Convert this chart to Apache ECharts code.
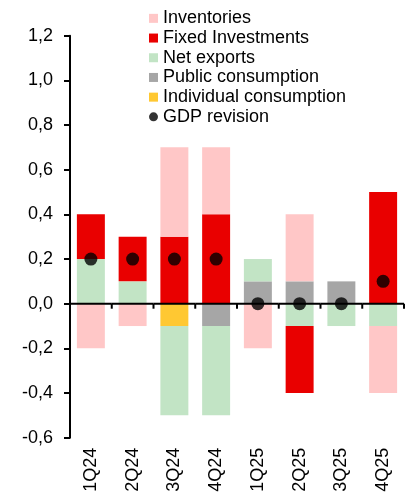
<!DOCTYPE html>
<html><head><meta charset="utf-8">
<script src="https://cdn.jsdelivr.net/npm/echarts@6/dist/echarts.min.js"></script>
<style>html,body{margin:0;padding:0;background:#fff}#c{width:407px;height:495px}</style>
</head><body><div id="c"></div>
<script>
const categories = ['1Q24','2Q24','3Q24','4Q24','1Q25','2Q25','3Q25','4Q25'];
const individualConsumption = [0, 0, -0.1, 0, 0, 0, 0, 0];
const publicConsumption = [0, 0, 0, -0.1, 0.1, 0.1, 0.1, 0];
const netExports = [0.2, 0.1, -0.4, -0.4, 0.1, -0.1, -0.1, -0.1];
const fixedInvestments = [0.2, 0.2, 0.3, 0.4, 0, -0.3, 0, 0.5];
const inventories = [-0.2, -0.1, 0.4, 0.3, -0.2, 0.3, 0, -0.3];
const gdpRevision = [0.2, 0.2, 0.2, 0.2, 0, 0, 0, 0.1];
const yTicks = {min: -0.6, max: 1.2, interval: 0.2};
const baseline = 0;

const FONT = 'Liberation Sans';
const FS = 18;
const chart = echarts.init(document.getElementById('c'), null, {renderer: 'canvas'});
function bar(name, data, color) {
  return {name, type: 'bar', stack: 'tot', data, barWidth: '67%',
    itemStyle: {color}, emphasis: {disabled: true}};
}

chart.setOption({
  animation: false,
  textStyle: {fontFamily: FONT},
  grid: {left: 70, right: 3, top: 35.7, bottom: 57.3, containLabel: false, outerBoundsMode: 'none'},
  legend: {
    orient: 'vertical', left: 149, top: 8.5, padding: 0, itemGap: 0, itemWidth: 9, itemHeight: 9,
    textStyle: {fontFamily: FONT, fontSize: FS, color: '#000', lineHeight: 19.7},
    data: [
      {name: 'Inventories', icon: 'rect'},
      {name: 'Fixed Investments', icon: 'rect'},
      {name: 'Net exports', icon: 'rect'},
      {name: 'Public consumption', icon: 'rect'},
      {name: 'Individual consumption', icon: 'rect'},
      {name: 'GDP revision', icon: 'circle'}
    ]
  },
  xAxis: {
    type: 'category', data: categories, position: 'bottom', offset: -134,
    axisLine: {show: false, onZero: false},
    axisTick: {show: false},
    axisLabel: {rotate: 90, margin: 144, fontFamily: FONT, fontSize: FS, color: '#000'},
    splitLine: {show: false}
  },
  yAxis: {
    type: 'value', min: yTicks.min, max: yTicks.max, interval: yTicks.interval,
    axisLine: {show: true, lineStyle: {color: '#000', width: 2}},
    axisTick: {show: true, length: 6, lineStyle: {color: '#000', width: 2}},
    splitLine: {show: false},
    axisLabel: {margin: 17, fontFamily: FONT, fontSize: FS, color: '#000',
      formatter: v => v.toFixed(1).replace('.', ',')}
  },
  series: [
    bar('Individual consumption', individualConsumption, '#FFC832'),
    bar('Public consumption', publicConsumption, '#A6A6A6'),
    bar('Net exports', netExports, '#C2E4C5'),
    bar('Fixed Investments', fixedInvestments, '#E90000'),
    bar('Inventories', inventories, '#FFC7C7'),
    {
      name: 'zero axis', type: 'custom', z: 4, silent: true, clip: false,
      data: categories.map(c => [c, baseline]),
      renderItem: function (params, api) {
        const p = api.coord([api.value(0), api.value(1)]);
        const w = api.size([1, 0])[0];
        return {type: 'group', children: [
          {type: 'rect', shape: {x: p[0] - w / 2, y: p[1] - 1, width: w, height: 2}, style: {fill: '#000'}},
          {type: 'rect', shape: {x: p[0] + w / 2 - 1, y: p[1], width: 2, height: 5}, style: {fill: '#000'}}
        ]};
      }
    },
    {name: 'GDP revision', type: 'scatter', data: gdpRevision,
     symbol: 'circle', symbolSize: 13, itemStyle: {color: '#000'}, z: 5,
     emphasis: {disabled: true}}
  ]
});
</script></body></html>
